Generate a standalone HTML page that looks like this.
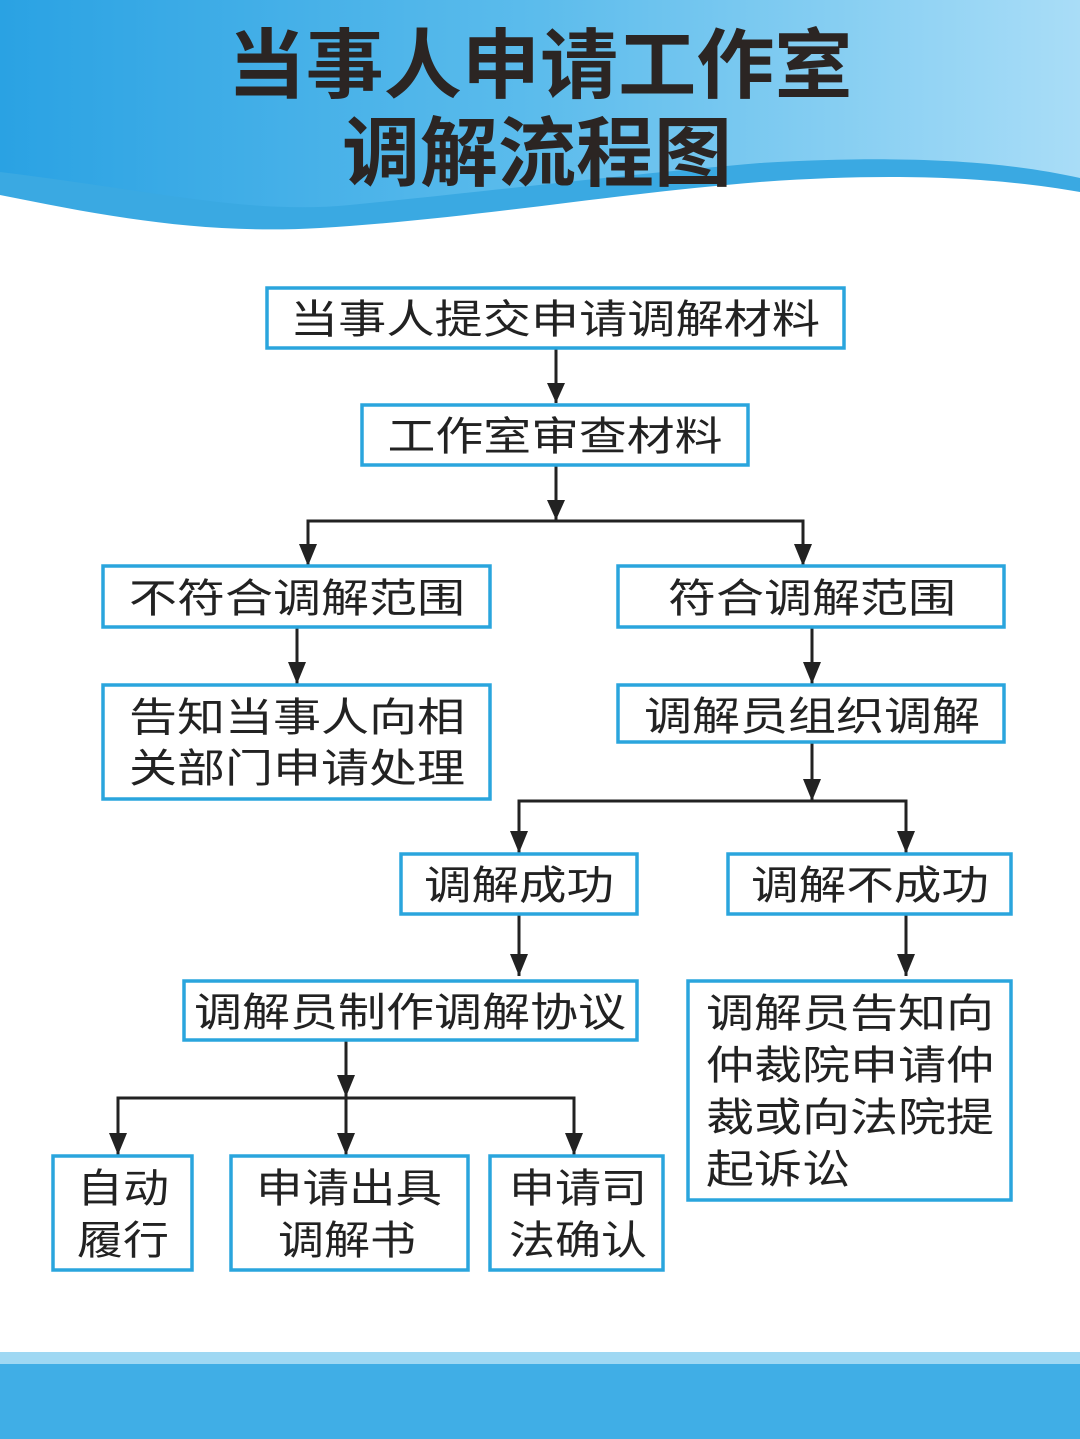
<!DOCTYPE html>
<html><head><meta charset="utf-8"><style>
html,body{margin:0;padding:0;background:#fff}
svg{display:block}
text{font-family:"Liberation Sans","Noto Sans CJK SC",sans-serif;fill:#222}
.b{fill:#fff;stroke:#2aa5dd;stroke-width:3.5}
.l{stroke:#222;stroke-width:3;fill:none}
.t{font-size:40px}
</style></head><body>
<svg width="1080" height="1439" viewBox="0 0 1080 1439" xmlns="http://www.w3.org/2000/svg">
<defs>
<linearGradient id="g" x1="0" y1="0" x2="1" y2="0">
<stop offset="0" stop-color="#2aa2e3"/><stop offset="0.5" stop-color="#5cbcec"/><stop offset="1" stop-color="#a9ddf7"/></linearGradient>
<marker id="a" markerWidth="20" markerHeight="24" refX="9" refY="22" orient="auto" markerUnits="userSpaceOnUse" viewBox="0 0 20 24"><path d="M0 0 L18 0 L9 22 Z" fill="#222" transform="rotate(-90 9 11) translate(-2 2)"/></marker>
</defs>
<rect x="0" y="0" width="1080" height="240" fill="url(#g)"/>
<path d="M0 172 C150 190 250 215 350 205 C500 190 620 175 760 163 C900 155 1000 160 1080 178 L1080 240 L0 240Z" fill="#3aa9e2"/>
<path d="M0 195 C100 215 200 235 320 228 C480 218 600 195 760 182 C900 172 1000 178 1080 192 L1080 260 L0 260Z" fill="#fff"/>
<rect x="0" y="1352" width="1080" height="12" fill="#9fd8f3"/>
<rect x="0" y="1364" width="1080" height="75" fill="#40aee6"/>
<text x="540" y="92" text-anchor="middle" font-size="76" font-weight="bold" style="fill:#2b2523" textLength="625" lengthAdjust="spacingAndGlyphs">当事人申请工作室</text>
<text x="537" y="180" text-anchor="middle" font-size="76" font-weight="bold" style="fill:#2b2523" textLength="390" lengthAdjust="spacingAndGlyphs">调解流程图</text>

<g class="l">
<line x1="556" y1="348" x2="556" y2="403"/>
<path d="M556 403 l-9 -20 h18z" fill="#222" stroke="none"/>
<line x1="556" y1="465" x2="556" y2="520"/>
<path d="M556 520 l-9 -20 h18z" fill="#222" stroke="none"/>
<polyline points="308,566 308,521 803,521 803,566"/>
<path d="M308 566 l-9 -22 h18z M803 566 l-9 -22 h18z" fill="#222" stroke="none"/>
<line x1="297" y1="627" x2="297" y2="684"/>
<path d="M297 684 l-9 -22 h18z" fill="#222" stroke="none"/>
<line x1="812" y1="627" x2="812" y2="684"/>
<path d="M812 684 l-9 -22 h18z" fill="#222" stroke="none"/>
<line x1="812" y1="742" x2="812" y2="801"/>
<path d="M812 801 l-9 -22 h18z" fill="#222" stroke="none"/>
<polyline points="519,853 519,801 906,801 906,853"/>
<path d="M519 853 l-9 -22 h18z M906 853 l-9 -22 h18z" fill="#222" stroke="none"/>
<line x1="519" y1="914" x2="519" y2="976"/>
<path d="M519 976 l-9 -22 h18z" fill="#222" stroke="none"/>
<line x1="906" y1="914" x2="906" y2="976"/>
<path d="M906 976 l-9 -22 h18z" fill="#222" stroke="none"/>
<line x1="346" y1="1040" x2="346" y2="1155"/>
<path d="M346 1097 l-9 -22 h18z M346 1155 l-9 -22 h18z" fill="#222" stroke="none"/>
<polyline points="118,1155 118,1098 574,1098 574,1155"/>
<path d="M118 1155 l-9 -22 h18z M574 1155 l-9 -22 h18z" fill="#222" stroke="none"/>
</g>

<rect class="b" x="267" y="288" width="577" height="60"/>
<text class="t" x="555" y="333" text-anchor="middle" textLength="530" lengthAdjust="spacingAndGlyphs">当事人提交申请调解材料</text>
<rect class="b" x="362" y="405" width="386" height="60"/>
<text class="t" x="555" y="450" text-anchor="middle" textLength="335" lengthAdjust="spacingAndGlyphs">工作室审查材料</text>
<rect class="b" x="103" y="566" width="387" height="61"/>
<text class="t" x="297" y="612" text-anchor="middle" textLength="336" lengthAdjust="spacingAndGlyphs">不符合调解范围</text>
<rect class="b" x="618" y="566" width="386" height="61"/>
<text class="t" x="812" y="612" text-anchor="middle" textLength="288" lengthAdjust="spacingAndGlyphs">符合调解范围</text>
<rect class="b" x="103" y="685" width="387" height="114"/>
<text class="t" x="297" y="731" text-anchor="middle" textLength="336" lengthAdjust="spacingAndGlyphs">告知当事人向相</text>
<text class="t" x="297" y="782" text-anchor="middle" textLength="336" lengthAdjust="spacingAndGlyphs">关部门申请处理</text>
<rect class="b" x="618" y="685" width="386" height="57"/>
<text class="t" x="812" y="730" text-anchor="middle" textLength="336" lengthAdjust="spacingAndGlyphs">调解员组织调解</text>
<rect class="b" x="401" y="854" width="236" height="60"/>
<text class="t" x="519" y="899" text-anchor="middle" textLength="190" lengthAdjust="spacingAndGlyphs">调解成功</text>
<rect class="b" x="728" y="854" width="283" height="60"/>
<text class="t" x="870" y="899" text-anchor="middle" textLength="238" lengthAdjust="spacingAndGlyphs">调解不成功</text>
<rect class="b" x="184" y="981" width="453" height="59"/>
<text class="t" x="410" y="1026" text-anchor="middle" textLength="432" lengthAdjust="spacingAndGlyphs">调解员制作调解协议</text>
<rect class="b" x="688" y="981" width="323" height="219"/>
<text class="t" x="706" y="1027" textLength="288" lengthAdjust="spacingAndGlyphs">调解员告知向</text>
<text class="t" x="706" y="1079" textLength="288" lengthAdjust="spacingAndGlyphs">仲裁院申请仲</text>
<text class="t" x="706" y="1131" textLength="288" lengthAdjust="spacingAndGlyphs">裁或向法院提</text>
<text class="t" x="706" y="1183" textLength="144" lengthAdjust="spacingAndGlyphs">起诉讼</text>
<rect class="b" x="53" y="1156" width="139" height="114"/>
<text class="t" x="123" y="1202" text-anchor="middle" textLength="92" lengthAdjust="spacingAndGlyphs">自动</text>
<text class="t" x="123" y="1254" text-anchor="middle" textLength="92" lengthAdjust="spacingAndGlyphs">履行</text>
<rect class="b" x="231" y="1156" width="237" height="114"/>
<text class="t" x="349" y="1202" text-anchor="middle" textLength="186" lengthAdjust="spacingAndGlyphs">申请出具</text>
<text class="t" x="347" y="1254" text-anchor="middle" textLength="138" lengthAdjust="spacingAndGlyphs">调解书</text>
<rect class="b" x="490" y="1156" width="173" height="114"/>
<text class="t" x="578" y="1202" text-anchor="middle" textLength="138" lengthAdjust="spacingAndGlyphs">申请司</text>
<text class="t" x="578" y="1254" text-anchor="middle" textLength="138" lengthAdjust="spacingAndGlyphs">法确认</text>
</svg>
</body></html>
